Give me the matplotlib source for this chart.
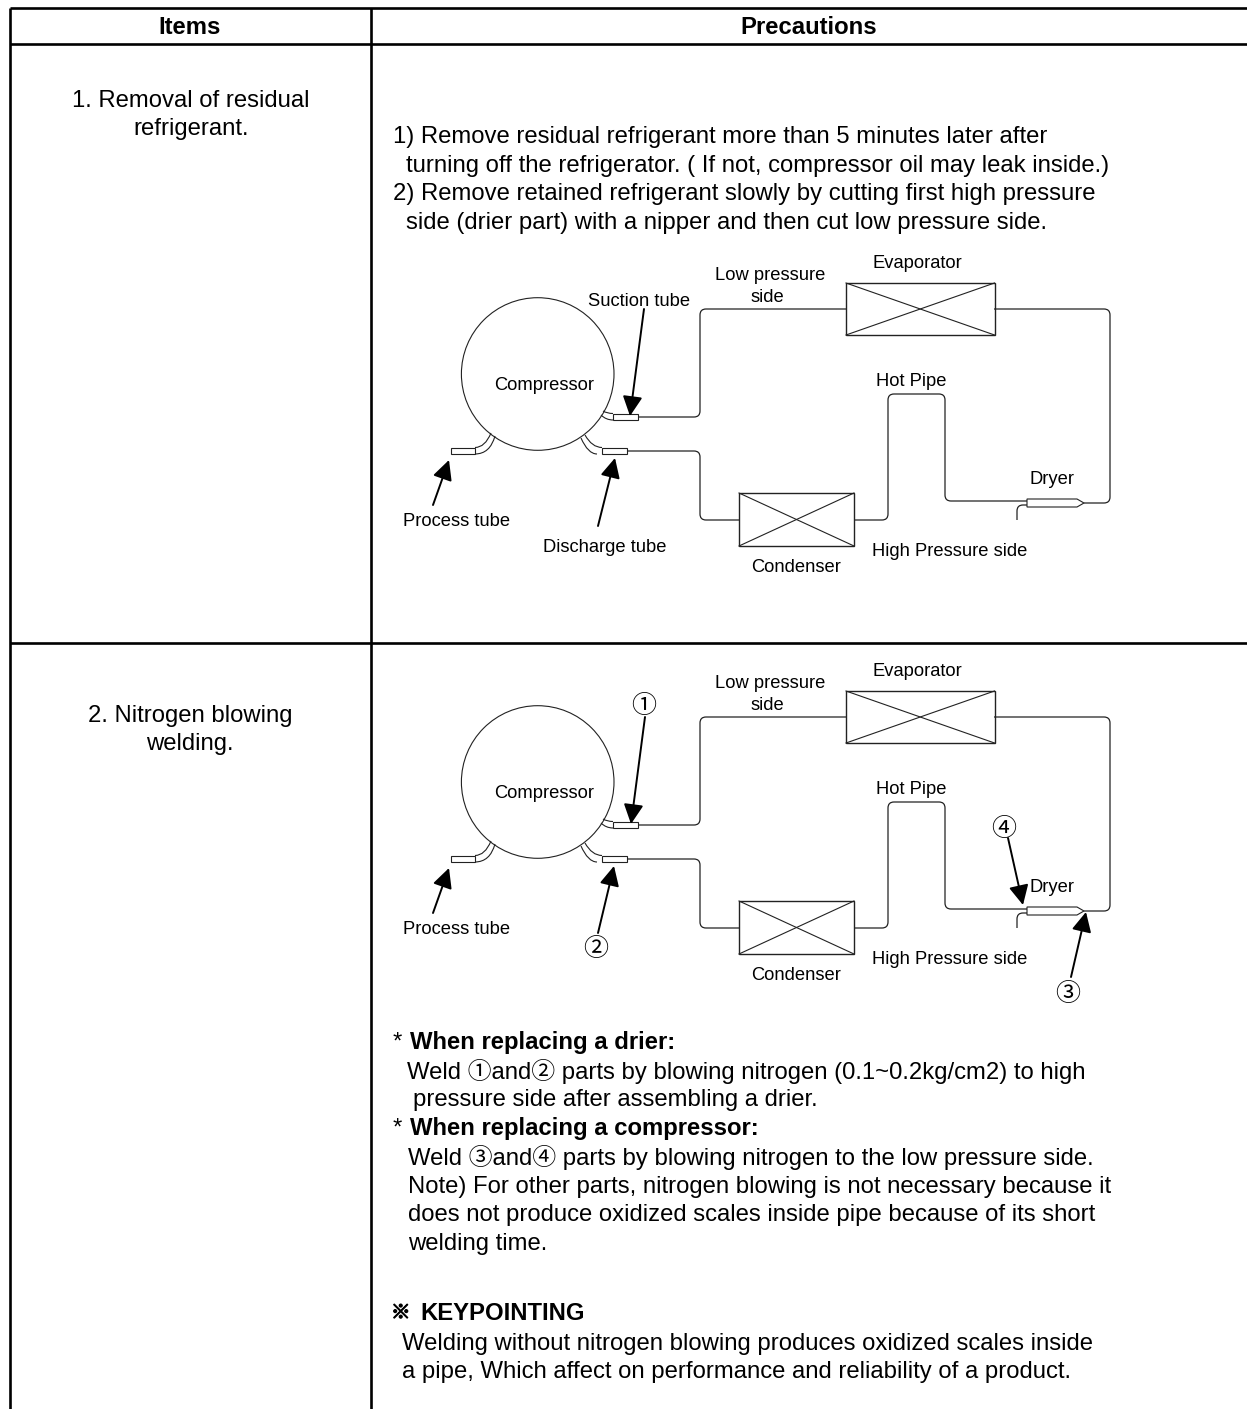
import matplotlib
matplotlib.use('Agg')
import matplotlib.pyplot as plt
import matplotlib.patheffects as pe
from matplotlib.patches import Circle, FancyArrowPatch, PathPatch, Polygon, Rectangle
from matplotlib.path import Path

plt.rcParams['font.family'] = ['Liberation Sans', 'Noto Sans CJK KR', 'DejaVu Sans']

# table text
headers = ['Items', 'Precautions']
item_one = ['1. Removal of residual', 'refrigerant.']
item_two = ['2. Nitrogen blowing', 'welding.']
steps_top = [
    '1) Remove residual refrigerant more than 5 minutes later after',
    'turning off the refrigerator. ( If not, compressor oil may leak inside.)',
    '2) Remove retained refrigerant slowly by cutting first high pressure',
    'side (drier part) with a nipper and then cut low pressure side.',
]
steps_bottom = [
    'Weld ①and② parts by blowing nitrogen (0.1~0.2kg/cm2) to high',
    'pressure side after assembling a drier.',
    'Weld ③and④ parts by blowing nitrogen to the low pressure side.',
    'Note) For other parts, nitrogen blowing is not necessary because it',
    'does not produce oxidized scales inside pipe because of its short',
    'welding time.',
    'Welding without nitrogen blowing produces oxidized scales inside',
    'a pipe, Which affect on performance and reliability of a product.',
]
steps_bottom_x = [407, 413, 408, 408, 408, 408, 402, 402]
steps_bottom_y = [1071, 1100, 1158, 1187, 1215, 1244, 1344, 1372]
bold_lines = ['When replacing a drier:', 'When replacing a compressor:']
bold_y = [1043, 1129]

# circuit parts, pixel positions of the upper drawing
compressor = (537.7, 374, 76.3)
evaporator = (846, 283, 148.5, 52)
condenser = (739, 493, 115, 53)
pipes = [
    [(638, 417), (700, 417), (700, 309), (846, 309)],
    [(994, 309), (1110, 309), (1110, 503), (1084, 503)],
    [(627, 451), (700, 451), (700, 520), (739, 520)],
    [(854, 520), (888, 520), (888, 394), (945, 394), (945, 501), (1027, 501)],
    [(1027, 505), (1017, 505), (1017, 520)],
]
dryer = [(1027, 499), (1077, 499), (1084, 503), (1077, 507), (1027, 507)]
tubes = [(613, 413.5, 25, 6.5), (602, 447.5, 25, 6.5), (451, 447.5, 24, 6.5)]
tube_curves = [
    [(603, 411), (607, 413.5), (613, 413.5)],
    [(601, 415), (606, 420), (613, 420)],
    [(585, 435), (592, 447.5), (602, 447.5)],
    [(581, 438), (588, 454), (597, 454)],
    [(475, 447.5), (485, 447.5), (491, 433)],
    [(475, 454), (490, 454), (495, 436)],
]
labels_common = ['Low pressure', 'side', 'Evaporator', 'Compressor', 'Hot Pipe',
                 'Process tube', 'Condenser', 'High Pressure side']
labels_common_x = [770, 767, 917, 544, 911, 457, 796, 950]
labels_common_y = [275, 297, 264, 385, 381, 521, 567, 551]
labels_top = ['Suction tube', 'Dryer', 'Discharge tube']
labels_top_x = [639, 1052, 605]
labels_top_y = [302, 480, 548]
arrows_top = [((644, 309), (630, 416)), ((433, 505), (449, 460)), ((598, 526), (615, 458))]
arrows_bottom = [((645, 717), (631, 824)), ((433, 913), (449, 868)), ((598, 933), (614, 866)),
                 ((1071, 977), (1086, 912)), ((1008, 838), (1023, 905))]
markers = ['①', '②', '③', '④']
markers_x = [644, 596, 1068, 1004]
markers_y = [706, 949, 994, 829]

LINE = '#222222'
BODY = 17.2


def rounded(points, r=7):
    # polyline with small rounded corners
    verts = [points[0]]
    codes = [Path.MOVETO]
    for i in range(1, len(points) - 1):
        x0, y0 = points[i - 1]
        x1, y1 = points[i]
        x2, y2 = points[i + 1]
        d1 = max(abs(x1 - x0), abs(y1 - y0))
        d2 = max(abs(x2 - x1), abs(y2 - y1))
        a = (x1 - (x1 - x0) / d1 * r, y1 - (y1 - y0) / d1 * r)
        b = (x1 + (x2 - x1) / d2 * r, y1 + (y2 - y1) / d2 * r)
        verts += [a, (x1, y1), b]
        codes += [Path.LINETO, Path.CURVE3, Path.CURVE3]
    verts.append(points[-1])
    codes.append(Path.LINETO)
    return Path(verts, codes)


def shift(points, dy):
    return [(x, y + dy) for x, y in points]


def draw_box(ax, box, dy):
    x, y, w, h = box
    y += dy
    ax.add_patch(Rectangle((x, y), w, h, fill=False, ec=LINE, lw=1.0))
    ax.plot([x, x + w], [y, y + h], color=LINE, lw=0.8)
    ax.plot([x, x + w], [y + h, y], color=LINE, lw=0.8)


def draw_circuit(ax, dy):
    cx, cy, r = compressor
    ax.add_patch(Circle((cx, cy + dy), r, fill=False, ec=LINE, lw=0.8))
    draw_box(ax, evaporator, dy)
    draw_box(ax, condenser, dy)
    for p in pipes:
        ax.add_patch(PathPatch(rounded(shift(p, dy), 6), fill=False, ec=LINE, lw=0.9))
    for c in tube_curves:
        v = shift(c, dy)
        ax.add_patch(PathPatch(Path(v, [Path.MOVETO, Path.CURVE3, Path.CURVE3]),
                               fill=False, ec=LINE, lw=0.8))
    for x, y, w, h in tubes:
        ax.add_patch(Rectangle((x, y + dy), w, h, fc='white', ec=LINE, lw=0.8, zorder=3))
    ax.add_patch(Polygon(shift(dryer, dy), closed=True, fc='white', ec=LINE, lw=0.8, zorder=3))


def draw_arrow(ax, start, tip):
    ax.add_patch(FancyArrowPatch(start, tip, arrowstyle='-|>,head_length=12,head_width=6',
                                 mutation_scale=1, shrinkA=0, shrinkB=0, color='black',
                                 lw=1.4, zorder=4))


def main():
    fig = plt.figure(figsize=(12.47, 14.09), dpi=100)
    ax = fig.add_axes([0, 0, 1, 1])
    ax.set_xlim(0, 1247)
    ax.set_ylim(1409, 0)
    ax.axis('off')

    # table rules
    for y in [8, 44, 643]:
        ax.plot([10, 1247], [y, y], color='black', lw=1.9, solid_capstyle='butt')
    for x in [10, 371]:
        ax.plot([x, x], [8, 1409], color='black', lw=1.9, solid_capstyle='butt')

    ax.text(190, 28, headers[0], ha='center', va='center', fontsize=BODY, fontweight='bold')
    ax.text(809, 28, headers[1], ha='center', va='center', fontsize=BODY, fontweight='bold')

    for text, y in zip(item_one, [101, 129]):
        ax.text(191, y, text, ha='center', va='center', fontsize=BODY)
    for text, y in zip(item_two, [716, 744]):
        ax.text(190, y, text, ha='center', va='center', fontsize=BODY)

    for text, x, y in zip(steps_top, [393, 406, 393, 406], [137, 166, 194, 223]):
        ax.text(x, y, text, ha='left', va='center', fontsize=BODY)
    for text, x, y in zip(steps_bottom, steps_bottom_x, steps_bottom_y):
        ax.text(x, y, text, ha='left', va='center', fontsize=BODY)
    for text, y in zip(bold_lines, bold_y):
        ax.text(393, y, '*', ha='left', va='center', fontsize=BODY)
        ax.text(410, y, text, ha='left', va='center', fontsize=BODY, fontweight='bold')
    ax.text(391, 1314, '※', ha='left', va='center', fontsize=14, fontweight='bold',
            path_effects=[pe.withStroke(linewidth=0.9, foreground='black')])
    ax.text(420, 1314, 'KEYPOINTING', ha='left', va='center', fontsize=BODY, fontweight='bold')

    # the two refrigerant circuits
    for dy in [0, 408]:
        draw_circuit(ax, dy)
        for text, x, y in zip(labels_common, labels_common_x, labels_common_y):
            ax.text(x, y + dy, text, ha='center', va='center', fontsize=13.2)

    for text, x, y in zip(labels_top, labels_top_x, labels_top_y):
        ax.text(x, y, text, ha='center', va='center', fontsize=13.2)
    ax.text(1052, 887, 'Dryer', ha='center', va='center', fontsize=13.2)
    for text, x, y in zip(markers, markers_x, markers_y):
        ax.text(x, y, text, ha='center', va='center', fontsize=18)

    for start, tip in arrows_top + arrows_bottom:
        draw_arrow(ax, start, tip)

    fig.savefig('out.png', dpi=100, facecolor='white')


if __name__ == '__main__':
    main()
